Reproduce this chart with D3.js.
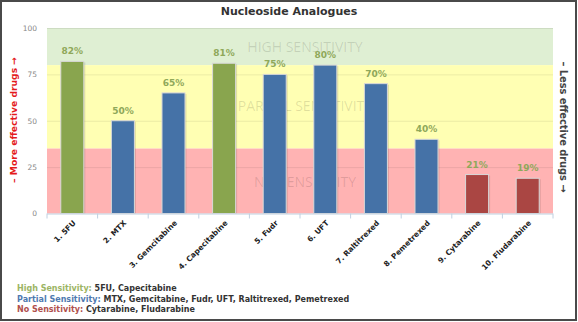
<!DOCTYPE html>
<html><head><meta charset="utf-8">
<script src="https://cdn.jsdelivr.net/npm/d3@7"></script>
<style>body{margin:0;background:#fff}svg{display:block;font-family:"DejaVu Sans",Verdana,sans-serif}</style>
</head><body><svg id="c" width="578" height="322"></svg>
<script>
const categories = ["1. 5FU","2. MTX","3. Gemcitabine","4. Capecitabine","5. Fudr","6. UFT","7. Raltitrexed","8. Pemetrexed","9. Cytarabine","10. Fludarabine"];
const values = [82,50,65,81,75,80,70,40,21,19];
const groups = ["high","partial","partial","high","partial","partial","partial","partial","none","none"];
const yTicks = [0,25,50,75,100];
const bands = [
  {from:80,to:100,label:"HIGH SENSITIVITY",color:"#dfefd3"},
  {from:35,to:80,label:"PARTIAL SENSITIVITY",color:"#ffffb3"},
  {from:0,to:35,label:"NO SENSITIVITY",color:"#ffb3b3"}
];
const groupColor = {high:"#89a54e",partial:"#4572a7",none:"#aa4643"};
const legendRows = [
  {key:"High Sensitivity:",text:" 5FU, Capecitabine",color:"#9cb564"},
  {key:"Partial Sensitivity:",text:" MTX, Gemcitabine, Fudr, UFT, Raltitrexed, Pemetrexed",color:"#4f7ab0"},
  {key:"No Sensitivity:",text:" Cytarabine, Fludarabine",color:"#b0504d"}
];

const svg = d3.select("#c");
const L=47,R=553,T=28,B=213.5;
const x = d3.scaleBand().domain(categories).range([L,R]).paddingInner(0.545).paddingOuter(0.2725);
const y = d3.scaleLinear().domain([0,100]).range([B,T]);

// border
svg.append("rect").attr("x",1).attr("y",1).attr("width",575).attr("height",319)
  .attr("fill","#fff").attr("stroke","#4a4a4a").attr("stroke-width",2);

// title
svg.append("text").attr("x",289).attr("y",15).attr("text-anchor","middle")
  .attr("font-size",11).attr("font-weight","bold").attr("fill","#333").text("Nucleoside Analogues");

// bands
svg.selectAll("rect.band").data(bands).join("rect").attr("class","band")
  .attr("x",L).attr("width",R-L).attr("y",d=>y(d.to)).attr("height",d=>y(d.from)-y(d.to)).attr("fill",d=>d.color);

// gridlines
svg.selectAll("line.grid").data(yTicks.filter(t=>t>0)).join("line").attr("class","grid")
  .attr("x1",L).attr("x2",R).attr("y1",d=>y(d)+0.5).attr("y2",d=>y(d)+0.5)
  .attr("stroke","#000").attr("stroke-opacity",0.08);

// band labels
svg.selectAll("text.bl").data(bands).join("text").attr("class","bl")
  .attr("x",(L+R)/2+5).attr("y",(d,i)=>[52,111,187][i]).attr("text-anchor","middle")
  .attr("font-size",14).attr("fill","#000").attr("fill-opacity",0.13).attr("font-family","'Open Sans',sans-serif")
  .text(d=>d.label);

// y axis
const ya = svg.append("g").attr("transform",`translate(${L-10},0)`)
  .call(d3.axisLeft(y).tickValues(yTicks).tickSize(0).tickPadding(0));
ya.select(".domain").remove();
ya.selectAll("text").attr("font-size",7.5).attr("fill","#888").attr("font-family","'DejaVu Sans',sans-serif");

// bars shadow
svg.selectAll("rect.sh").data(categories).join("rect").attr("class","sh")
  .attr("x",d=>x(d)+1.5).attr("y",(d,i)=>y(values[i])+1).attr("width",x.bandwidth()).attr("height",(d,i)=>B-y(values[i])-1)
  .attr("fill","#000").attr("opacity",0.12);
svg.selectAll("rect.bar").data(categories).join("rect").attr("class","bar")
  .attr("x",d=>x(d)).attr("y",(d,i)=>y(values[i])).attr("width",x.bandwidth()).attr("height",(d,i)=>B-y(values[i]))
  .attr("fill",(d,i)=>groupColor[groups[i]]).attr("stroke","#d8d8d8").attr("stroke-width",1);

// data labels
svg.selectAll("text.dl").data(categories).join("text").attr("class","dl")
  .attr("x",d=>x(d)+x.bandwidth()/2).attr("y",(d,i)=>y(values[i])-7).attr("text-anchor","middle")
  .attr("font-size",9).attr("font-weight","bold").attr("fill","#8fa85a").text((d,i)=>values[i]+"%");

// x axis
const xa = svg.append("g").attr("transform",`translate(0,${B})`).call(d3.axisBottom(x).tickSize(0).tickFormat(""));
xa.select(".domain").attr("stroke","#c0d0e0").attr("d",`M${L},0.5H${R}`);
const bounds = d3.range(categories.length+1).map(i=>L+i*(R-L)/categories.length);
svg.selectAll("line.xt").data(bounds).join("line").attr("class","xt")
  .attr("x1",d=>d).attr("x2",d=>d).attr("y1",B).attr("y2",B+5).attr("stroke","#c0d0e0");
svg.selectAll("text.xl").data(categories).join("text").attr("class","xl")
  .attr("transform",d=>`translate(${x(d)+x.bandwidth()/2+4},${B+10}) rotate(-45)`)
  .attr("text-anchor","end").attr("font-size",7.5).attr("font-weight","bold").attr("fill","#222").text(d=>d);

// axis titles
svg.append("text").attr("transform","translate(17,120) rotate(-90)").attr("text-anchor","middle")
  .attr("font-size",9.2).attr("font-weight","bold").attr("fill","#e41a1c").text("– More effective drugs →");
svg.append("text").attr("transform","translate(560,127) rotate(90)").attr("text-anchor","middle")
  .attr("font-size",9.8).attr("fill","#444").attr("font-weight","600").text("– Less effective drugs →");

// legend text
const lg = svg.selectAll("text.lg").data(legendRows).join("text").attr("class","lg")
  .attr("x",17).attr("y",(d,i)=>291+i*10.5).attr("font-size",8).attr("font-weight","bold");
lg.append("tspan").attr("fill",d=>d.color).text(d=>d.key);
lg.append("tspan").attr("fill","#333").text(d=>d.text);
</script></body></html>
